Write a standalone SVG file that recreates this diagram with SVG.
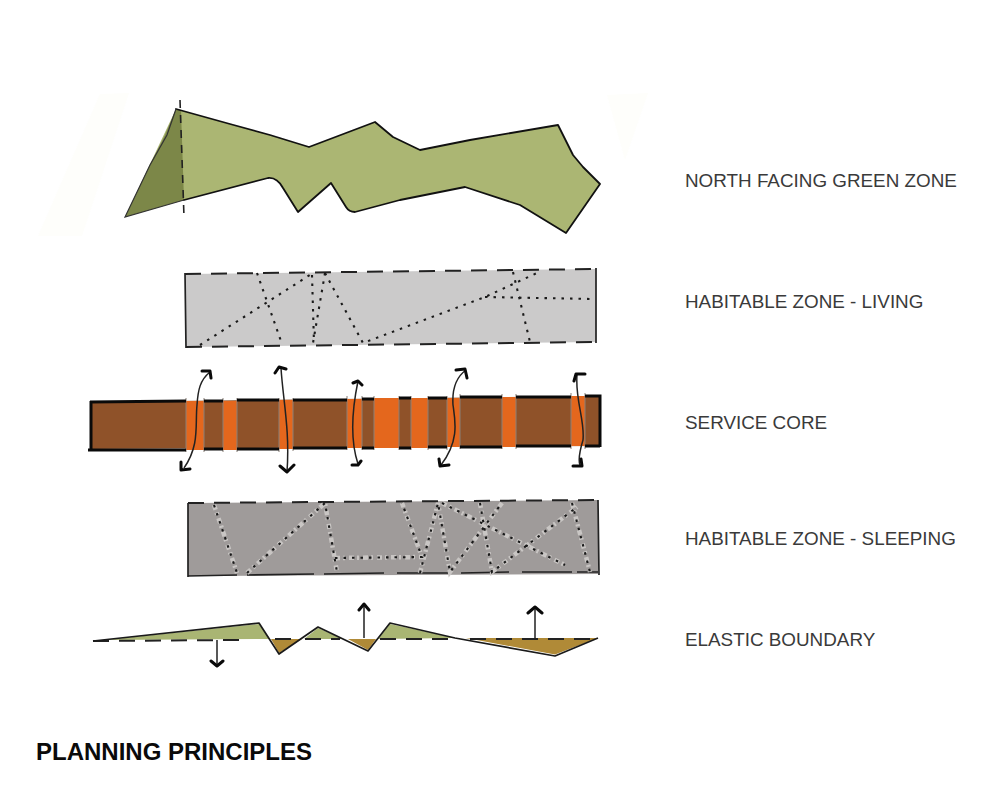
<svg xmlns="http://www.w3.org/2000/svg" width="1000" height="800" viewBox="0 0 1000 800">
<style>
.lbl{font-family:"Liberation Sans",Arial,sans-serif;font-size:18.85px;fill:#3a3a3a}
.ttl{font-family:"Liberation Sans",Arial,sans-serif;font-size:24px;font-weight:bold;fill:#0a0a0a}
.ol{fill:none;stroke:#111;stroke-width:1.8;stroke-linejoin:round;stroke-linecap:round}
.dash{fill:none;stroke:#222;stroke-width:2;stroke-dasharray:16 10}
.dot{fill:none;stroke:#1a1a1a;stroke-width:2.1;stroke-dasharray:2.5 6}
.spk{fill:none;stroke:#c9c6c4;stroke-width:4.5;stroke-dasharray:5 3 2 4}
.edge{fill:none;stroke:#0a0a0a;stroke-width:3}
.band{fill:#e4671d}
.tick{fill:none;stroke:#8a8078;stroke-width:1}
.arr{fill:none;stroke:#222;stroke-width:1.5}
.head{fill:none;stroke:#0a0a0a;stroke-width:3;stroke-linecap:round;stroke-linejoin:round}
.gr{fill:#a9b573}
.br{fill:#b08a37}
</style>
<rect width="1000" height="800" fill="#fff"/>
<g id="green-zone">
<polygon points="38,236 100,94 129,93 82,236" fill="#fefefb"/>
<polygon points="607,95 648,93 625,160" fill="#fefefb"/>
<path d="M176,109L230,124L270,135L309,147L375,122L393,137L420,150L470,140L558,125L573,155L583,167L600,184L566,233L520,205L465,187L400,200L355,212Q349,212 346,207L331,183L298,212L283,188Q277,177 268,178L184,200L125,217Z" fill="#abb673"/>
<polygon points="176,109 165,135 150,165 125,217 184,200 181,110" fill="#7c8748"/>
<path class="ol" d="M176,109L230,124L270,135L309,147L375,122L393,137L420,150L470,140L558,125L573,155L583,167L600,184L566,233L520,205L465,187L400,200L355,212Q349,212 346,207L331,183L298,212L283,188Q277,177 268,178L184,200"/>
<path d="M184,200L125,217L150,165L167,135L176,109" fill="none" stroke="#333" stroke-width="1.2"/>
<path d="M180,100L184,217" fill="none" stroke="#222" stroke-width="1.6" stroke-dasharray="8 7"/>
</g>
<g id="habitable-living">
<polygon points="185,274 596,269 596,342 186,347" fill="#cbcaca"/>
<path class="dash" d="M185,274L596,269M186,347L596,342"/>
<path d="M185,273L186,348M596,268L596,343" fill="none" stroke="#222" stroke-width="1.7"/>
<path class="dot" d="M200,345L313,273M257,273L282,344M312,275L314,343M325,273L313,343M325,273L363,343L485,297L537,273M485,297L593,299M513,272L530,342"/>
</g>
<g id="service-core">
<polygon points="91,402 600,396 599,446 91,449" fill="#8f5229"/>
<path class="band" d="M186,401H204V450H186ZM223,401H237V450H223ZM279,400H293V449H279ZM347,399H362V448H347ZM374,398H399V448H374ZM411,398H428V448H411ZM447,398H460V447H447ZM502,397H516V447H502ZM571,396H585V446H571Z"/>
<path class="tick" d="M186,398V452M204,398V452M223,398V452M237,398V452M279,398V452M293,398V451M347,396V450M362,396V450M374,396V450M399,396V450M411,396V450M428,396V450M447,396V450M460,394V449M502,394V449M516,394V449M571,393V449M585,393V449"/>
<path class="edge" d="M90,402L186,401M204,401H223M237,400H279M293,400H347M362,399H374M399,398H411M428,398H447M460,397H502M516,397H571M585,396H600V447M585,446H600M571,446H516M502,447H460M447,447H428M411,448H399M374,448H362M347,448H293M279,449H237M223,449H204M186,450H88M91,401V450"/>
<path class="arr" d="M184,468C200,445 195,425 197,405C198,390 200,380 210,372M281,368C283,400 290,430 287,472M358,381C352,410 350,440 358,464M441,465C460,440 455,420 453,405C452,390 455,378 466,370M577,375C575,400 585,420 583,440C580,450 578,460 580,465"/>
<path class="head" d="M202,371L210,371L211,378M181,462L181,470L190,469M275,373L279,367L286,369M280,466L287,472L294,465M353,383L358,381L362,385M352,465L358,465L361,461M456,370L465,369L467,378M439,459L440,466L449,465M574,381L576,374L585,374M573,466L582,466L581,459"/>
</g>
<g id="habitable-sleeping">
<polygon points="188,503 598,500 598,574 188,576" fill="#9f9b9a"/>
<path class="dash" d="M188,503L598,500"/>
<path d="M188,576L237,575M247,575L314,574M324,574L384,573M397,573L449,573M461,573L509,572M522,572L572,572M577,572L598,572M188,503V577M598,500L599,575" fill="none" stroke="#222" stroke-width="1.7"/>
<path class="spk" d="M214,505L237,573M247,573L325,503L337,572M335,558L422,557L402,503M420,573L438,503L450,572L502,503M442,503L565,565M480,503L492,572L577,507M572,503L590,572"/>
<path class="dot" d="M214,505L237,573M247,573L325,503L337,572M335,558L422,557L402,503M420,573L438,503L450,572L502,503M442,503L565,565M480,503L492,572L577,507M572,503L590,572"/>
</g>
<g id="elastic-boundary">
<polygon class="gr" points="105,640 259,624 270,639"/>
<polygon class="gr" points="304,639 318,628 343,639"/>
<polygon class="gr" points="378,639 390,624 455,638"/>
<polygon class="br" points="271,639 302,639 279,653"/>
<polygon class="br" points="348,639 376,639 368,650"/>
<polygon class="br" points="466,638 598,638 555,654.500"/>
<path class="dash" d="M93,641L240,640M275,639H300M305,639H340M380,639H455M470,639H598" stroke-dasharray="15 10"/>
<path d="M93,641L259,623L279,654L318,627L368,651L390,623L455,638L555,656L598,638" fill="none" stroke="#1a1a1a" stroke-width="1.7" stroke-linejoin="round"/>
<path class="arr" d="M217,640V665M364,638V604M535,639V607"/>
<path class="head" d="M211,661L217,666L223,661M359,610L364,604L369,610M528,613L535,607L542,613"/>
</g>
<g id="labels">
<text class="lbl" x="685" y="187">NORTH FACING GREEN ZONE</text>
<text class="lbl" x="685" y="308">HABITABLE ZONE - LIVING</text>
<text class="lbl" x="685" y="429">SERVICE CORE</text>
<text class="lbl" x="685" y="545">HABITABLE ZONE - SLEEPING</text>
<text class="lbl" x="685" y="646">ELASTIC BOUNDARY</text>
<text class="ttl" x="36" y="760">PLANNING PRINCIPLES</text>
</g>
</svg>
